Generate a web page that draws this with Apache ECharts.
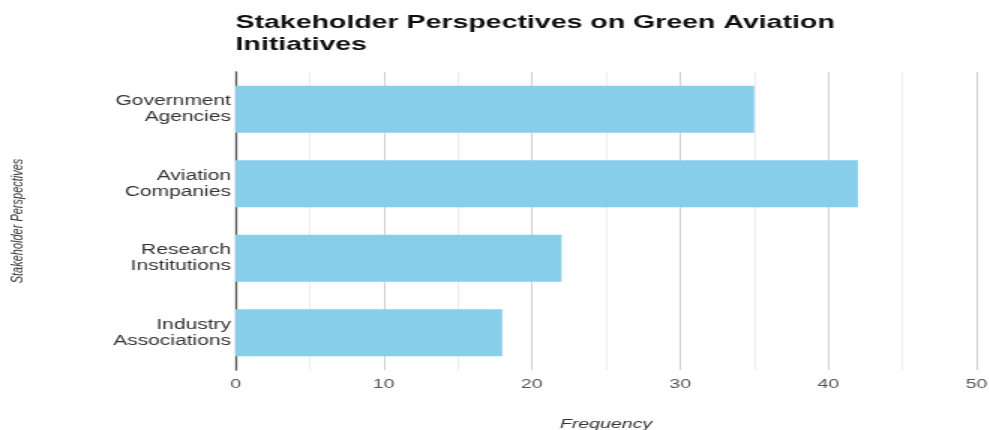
<!DOCTYPE html>
<html>
<head>
<meta charset="utf-8">
<title>Stakeholder Perspectives on Green Aviation Initiatives</title>
<script src="https://cdn.jsdelivr.net/npm/echarts@6/dist/echarts.min.js"></script>
<style>
  html, body { margin: 0; padding: 0; background: #ffffff; overflow: hidden; }
  #wrap { width: 989px; height: 430px; overflow: hidden; }
  /* chart is laid out on a narrower canvas, then widened horizontally */
  #chart { width: 659px; height: 430px; transform: scaleX(1.5); transform-origin: 0 0; }
</style>
</head>
<body>
<div id="wrap"><div id="chart"></div></div>
<script>
const titleText = 'Stakeholder Perspectives on Green Aviation Initiatives';
const categories = ['Government\nAgencies', 'Aviation\nCompanies', 'Research\nInstitutions', 'Industry\nAssociations'];
const frequency = [35, 42, 22, 18];
const xTicks = [0, 10, 20, 30, 40, 50];

const chart = echarts.init(document.getElementById('chart'), null, { renderer: 'canvas' });
const font = 'Liberation Sans, Arial, sans-serif';

chart.setOption({
  animation: false,
  textStyle: { fontFamily: font },
  title: {
    text: titleText,
    left: 157,
    top: 12,
    padding: 0,
    textStyle: {
      fontFamily: font,
      fontSize: 19,
      fontWeight: 'bold',
      color: '#111111',
      width: 440,
      overflow: 'break',
      lineHeight: 22
    }
  },
  grid: { left: 157, right: 8, top: 72, bottom: 60, containLabel: false, outerBoundsMode: 'none' },
  xAxis: {
    type: 'value',
    min: xTicks[0],
    max: xTicks[xTicks.length - 1],
    interval: 10,
    name: 'Frequency',
    nameLocation: 'middle',
    nameGap: 48,
    nameTextStyle: { fontFamily: font, fontSize: 13, fontStyle: 'italic', color: '#333333' },
    axisLine: { show: false },
    axisTick: { show: false },
    axisLabel: { fontSize: 13, color: '#555555', margin: 8 },
    splitLine: { show: true, lineStyle: { color: '#cfcfcf', width: 1 } },
    minorTick: { show: false, splitNumber: 2 },
    minorSplitLine: { show: true, lineStyle: { color: '#ececec', width: 1 } }
  },
  yAxis: {
    type: 'category',
    data: categories,
    inverse: true,
    name: 'Stakeholder Perspectives',
    nameLocation: 'middle',
    nameGap: 140,
    nameTextStyle: { fontFamily: font, fontSize: 11, fontStyle: 'italic', color: '#333333' },
    axisLine: { show: true, lineStyle: { color: '#555555', width: 1.3 } },
    axisTick: { show: false },
    axisLabel: { fontSize: 14, color: '#333333', margin: 3, lineHeight: 16, align: 'right' },
    splitLine: { show: false }
  },
  series: [{
    type: 'bar',
    data: frequency,
    barWidth: '63%',
    itemStyle: { color: '#87CEEB' }
  }]
});
</script>
</body>
</html>
